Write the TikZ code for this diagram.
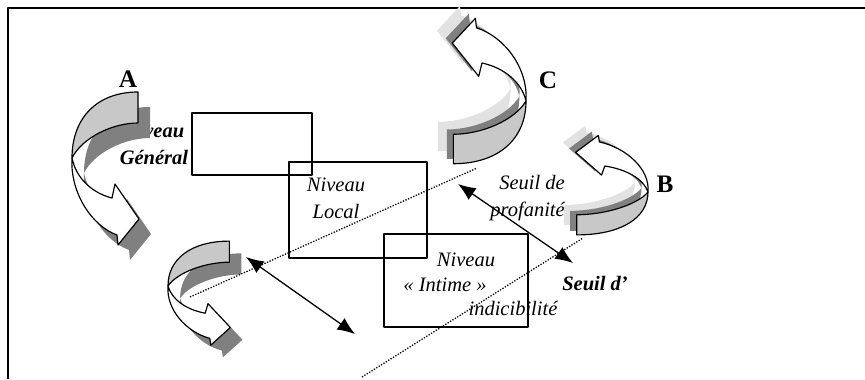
\documentclass[tikz,border=0pt]{standalone}
\usepackage{fontspec}
\setmainfont{Liberation Serif}
\usepackage{xcolor}
\definecolor{ribbon}    {HTML}{C8C8C8}
\definecolor{shadedark} {HTML}{808080}
\definecolor{shadelight}{HTML}{E2E2E2}
\usetikzlibrary{arrows.meta}

% one twisted arrow, drawn with its twist at the origin
\newcommand{\twistribbon}{(0,0) .. controls (0,-40) and (25,-66) .. (66,-66)
    -- (66,-35) .. controls (40,-35) and (10,-20) .. (0,0) -- cycle}
\newcommand{\twisthead}{(0,0) .. controls (-2,35) and (20,68) .. (45,77)
    -- (46,87) -- (67,61) -- (43,26) -- (40,40)
    .. controls (20,35) and (4,20) .. (0,0) -- cycle}
\newcommand{\twistshade}[2]{\fill[#1, shift={#2}] \twistribbon \twisthead;}
\newcommand{\twistarrow}{%
    \filldraw[fill=ribbon, line width=1pt] \twistribbon;
    \filldraw[fill=white, line width=1pt] \twisthead;}

\begin{document}
\begin{tikzpicture}[x=0.03cm, y=-0.03cm, line join=round,
    levelbox/.style={draw, line width=0.9pt, inner sep=0pt, outer sep=0pt},
    lab/.style={inner sep=0pt, align=center,
                font=\fontsize{17.5}{23}\selectfont\itshape},
    boldlab/.style={lab, font=\fontsize{17.5}{23}\selectfont\bfseries\itshape},
    letterlab/.style={inner sep=0pt, font=\fontsize{21.5}{24}\selectfont\bfseries},
    twoway/.style={{Latex[length=15pt,width=12pt]}-{Latex[length=15pt,width=12pt]},
                   line width=1.1pt},
    dotline/.style={line width=1.1pt, dash pattern=on 1.1pt off 1.3pt}]

    \useasboundingbox (0,0) rectangle (865,379);

    % --- frame (open at the right and bottom)
    \draw[line width=1.7pt] (865,8) -- (8,8) -- (8,379);

    % --- the three levels
    \node[levelbox, minimum width=3.6cm, minimum height=1.86cm] (general) at (252,144) {};
    \node[levelbox, minimum width=4.14cm, minimum height=2.88cm] (local) at (358,210) {};
    \node[levelbox, minimum width=4.32cm, minimum height=2.79cm] (intime) at (456,280.5) {};

    \node[boldlab] (generallab) at (154,144) {Niveau\\Général};
    \node[lab] (locallab) at (336,198) {Niveau\\Local};
    \node[lab] (intimelab) at (466,260) {Niveau};
    \node[lab] (intimelab2) at (445,285) {«~Intime~»};
    \node[lab, align=right, anchor=east] (profane) at (565,198) {Seuil de\\profanité};
    \node[boldlab] (seuil) at (595,283) {Seuil d’};
    \node[lab] (indicible) at (513,308) {indicibilité};

    % --- twisted arrows
    \begin{scope}[shift={(72,158)}]
        \twistshade{shadedark}{(12,15)}
        \twistarrow
    \end{scope}
    \begin{scope}[shift={(168,286)}, xscale=0.93, yscale=0.68]
        \twistshade{shadedark}{(13,18)}
        \twistarrow
    \end{scope}
    \begin{scope}[shift={(526,101)}, rotate=180, xscale=1.1, yscale=0.95]
        \twistshade{shadelight}{(14,13)}
        \twistshade{shadedark}{(6,5)}
        \twistarrow
    \end{scope}
    \begin{scope}[shift={(648,192)}, rotate=180, xscale=1.08, yscale=0.65]
        \twistshade{shadelight}{(12,15)}
        \twistshade{shadedark}{(6,6)}
        \twistarrow
    \end{scope}

    \node[letterlab] (A) at (128,79) {A};
    \node[letterlab] (C) at (548,80) {C};
    \node[letterlab] (B) at (665,184) {B};

    % --- thresholds
    \coordinate (d1) at (190,297);
    \coordinate (d2) at (477,168);
    \coordinate (d3) at (362,377);
    \coordinate (d4) at (583,238);
    \draw[dotline] (d1) -- (d2);
    \draw[dotline] (d3) -- (d4);

    \coordinate (t1) at (458,184);
    \coordinate (t2) at (573,263);
    \coordinate (t3) at (246,257);
    \coordinate (t4) at (355,334);
    \draw[twoway] (t1) -- (t2);
    \draw[twoway] (t3) -- (t4);
\end{tikzpicture}
\end{document}
